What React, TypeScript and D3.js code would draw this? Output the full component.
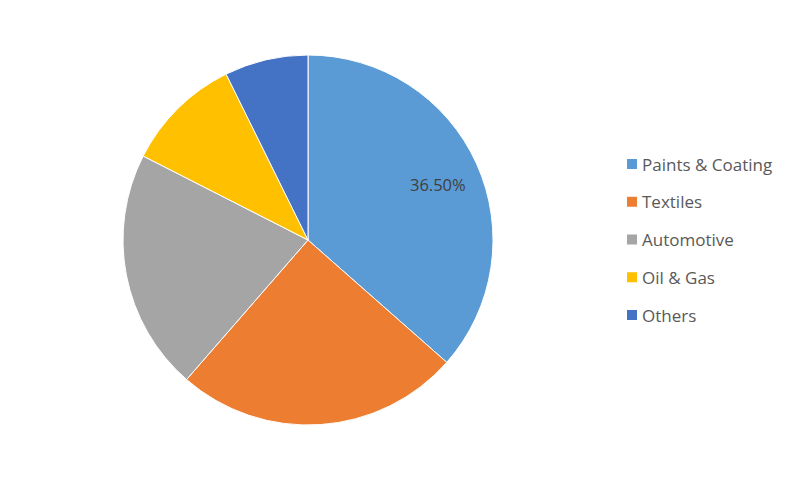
import React from "react";
import * as d3 from "d3";

const categories = ["Paints & Coating", "Textiles", "Automotive", "Oil & Gas", "Others"];
const values = [36.5, 24.9, 21.1, 10.2, 7.3];
const colors = ["#5B9BD5", "#ED7D31", "#A5A5A5", "#FFC000", "#4472C4"];
const labels = ["36.50%", "", "", "", ""];

export default function App() {
  const W = 800, H = 481;
  const cx = 308, cy = 240, r = 185;
  const pie = d3.pie<number>().sort(null).value((d) => d)(values);
  const arc = d3.arc<d3.PieArcDatum<number>>().innerRadius(0).outerRadius(r);
  const labelArc = d3.arc<d3.PieArcDatum<number>>().innerRadius(r * 0.77).outerRadius(r * 0.77);
  const legendY = d3.scalePoint<string>().domain(categories).range([164, 315]);
  return (
    <svg width={W} height={H} style={{ position: "absolute", left: 0, top: 0, background: "#fff" }}>
      <g transform={`translate(${cx},${cy})`}>
        {pie.map((p, i) => (
          <path key={i} d={arc(p) || ""} fill={colors[i]} stroke="#fff" strokeWidth={1} />
        ))}
        {pie.map((p, i) => {
          if (!labels[i]) return null;
          const [x, y] = labelArc.centroid(p);
          return (
            <text key={"l" + i} x={x} y={y + 3} textAnchor="middle" dominantBaseline="central"
              fontFamily="'Open Sans', 'Noto Sans', sans-serif" fontSize={16.5} fill="#404040">
              {labels[i]}
            </text>
          );
        })}
      </g>
      {categories.map((c, i) => {
        const y = legendY(c) as number;
        return (
          <g key={c}>
            <rect x={627} y={y - 5} width={10} height={10} fill={colors[i]} />
            <text x={642} y={y} dominantBaseline="central" fontFamily="'Open Sans', 'Noto Sans', sans-serif"
              fontSize={17} fill="#595959">
              {c}
            </text>
          </g>
        );
      })}
    </svg>
  );
}
